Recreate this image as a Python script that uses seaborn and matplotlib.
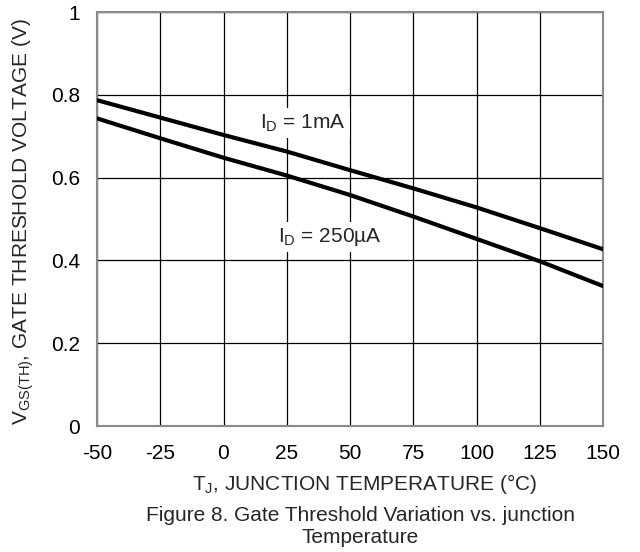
import pandas as pd
import matplotlib
matplotlib.use("Agg")
import matplotlib.pyplot as plt
import seaborn as sns

# temperatures (C) and threshold voltages (V)
temp = [-50, -25, 0, 25, 50, 75, 100, 125, 150]
vth_1ma = [0.787, 0.745, 0.703, 0.663, 0.618, 0.574, 0.528, 0.478, 0.427]
vth_250ua = [0.743, 0.695, 0.648, 0.605, 0.558, 0.506, 0.452, 0.398, 0.338]

df = pd.DataFrame({
    'T': temp * 2,
    'V': vth_1ma + vth_250ua,
    'ID': ['1mA'] * len(temp) + ['250uA'] * len(temp),
})

sns.set_style("white")
plt.rcParams['font.family'] = ['Liberation Sans', 'DejaVu Sans']
plt.rcParams['mathtext.fontset'] = 'custom'
plt.rcParams['mathtext.rm'] = 'Liberation Sans'
plt.rcParams['mathtext.default'] = 'regular'

fs = 15

fig, ax = plt.subplots(figsize=(6.4, 5.52), dpi=100)
fig.subplots_adjust(left=97/640, right=603/640, top=1-12/552, bottom=1-426/552)

sns.lineplot(data=df, x='T', y='V', units='ID', estimator=None, color='black',
             linewidth=3, ax=ax, zorder=3, legend=False)

ax.set_xlim(-50, 150)
ax.set_ylim(0, 1)
ax.set_xticks(temp)
ax.set_xticklabels([str(t) for t in temp])
ax.set_yticks([0, 0.2, 0.4, 0.6, 0.8, 1])
ax.set_yticklabels(['0', '0.2', '0.4', '0.6', '0.8', '1'])
ax.grid(True, color='black', linewidth=0.9)
ax.set_axisbelow(True)
for s in ax.spines.values():
    s.set_color('#8a8a8a')
    s.set_linewidth(1.5)
ax.tick_params(axis='both', length=0, labelsize=fs, colors='black')
ax.tick_params(axis='x', pad=13)
ax.tick_params(axis='y', pad=12)

# mathtext has no degree-celsius glyph, so write it as degree sign + C
ax.set_xlabel('T$_J$, JUNCTION TEMPERATURE (\u00b0C)', fontsize=fs)
ax.xaxis.set_label_coords(0.528, -0.11)
ax.set_ylabel('V$_{GS(TH)}$, GATE THRESHOLD VOLTAGE (V)', fontsize=fs)
ax.yaxis.set_label_coords(-0.12, 0.493)

ax.text(14.4, 0.732, 'I$_D$ = 1mA', fontsize=fs, va='center', ha='left', zorder=4,
        bbox=dict(facecolor='white', edgecolor='none', pad=3))
ax.text(21.5, 0.456, 'I$_D$ = 250\u00b5A', fontsize=fs, va='center', ha='left', zorder=4,
        bbox=dict(facecolor='white', edgecolor='none', pad=3))

ax.text(0.52, -0.193, 'Figure 8. Gate Threshold Variation vs. junction\nTemperature',
        transform=ax.transAxes, ha='center', va='top', fontsize=fs, linespacing=1.2)

plt.savefig('out.png', dpi=100)
